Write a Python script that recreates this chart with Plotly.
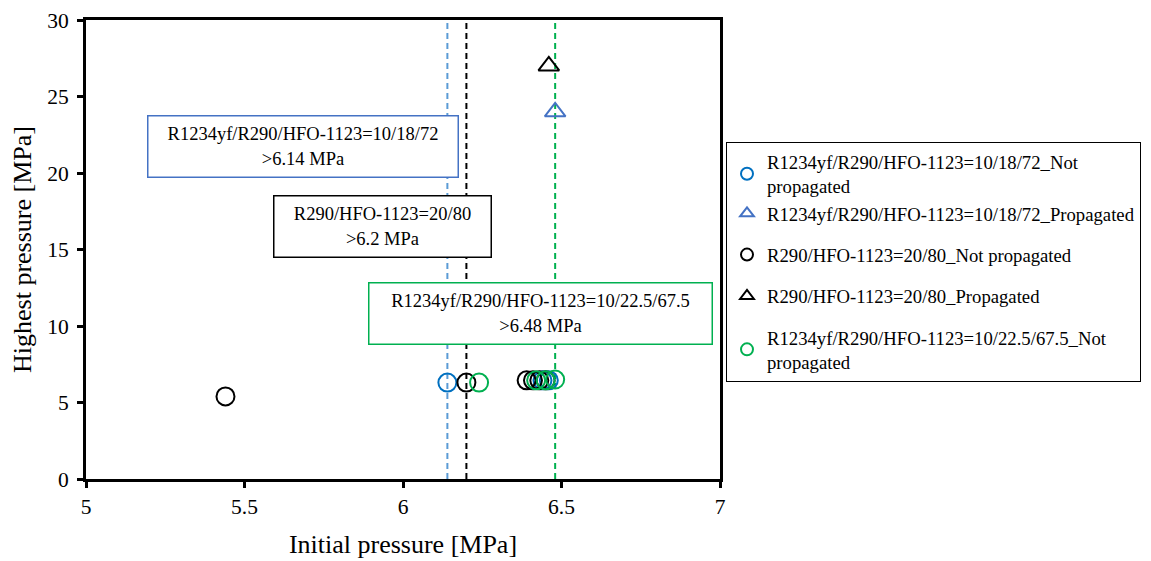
import plotly.graph_objects as go

# ---- data ----
blue_np_x = [6.14, 6.44, 6.46]
blue_np_y = [6.3, 6.45, 6.45]
blue_p_x = [6.48]
blue_p_y = [24.0]
black_np_x = [5.44, 6.20, 6.39, 6.41, 6.43, 6.45]
black_np_y = [5.4, 6.3, 6.45, 6.45, 6.45, 6.45]
black_p_x = [6.46]
black_p_y = [27.0]
green_np_x = [6.24, 6.42, 6.45, 6.48]
green_np_y = [6.3, 6.45, 6.45, 6.5]

series_names = [
    "R1234yf/R290/HFO-1123=10/18/72_Not<br>propagated",
    "R1234yf/R290/HFO-1123=10/18/72_Propagated",
    "R290/HFO-1123=20/80_Not propagated",
    "R290/HFO-1123=20/80_Propagated",
    "R1234yf/R290/HFO-1123=10/22.5/67.5_Not<br>propagated",
]

threshold_x = [6.14, 6.20, 6.48]
threshold_labels = [
    "R1234yf/R290/HFO-1123=10/18/72<br>>6.14 MPa",
    "R290/HFO-1123=20/80<br>>6.2 MPa",
    "R1234yf/R290/HFO-1123=10/22.5/67.5<br>>6.48 MPa",
]

x_ticks = [5, 5.5, 6, 6.5, 7]
y_ticks = [0, 5, 10, 15, 20, 25, 30]

FONT = "Liberation Serif"
BLUE_C = "#0070C0"
BLUE_T = "#4472C4"
BLUE_L = "#5B9BD5"
GREEN = "#00B050"

fig = go.Figure()

def add(x, y, name, color, symbol, group):
    fig.add_trace(go.Scatter(
        x=x, y=y, mode="markers", name=name, legendgroup=group,
        marker=dict(symbol=symbol, size=18, color=color,
                    line=dict(color=color, width=2)),
    ))

add(blue_np_x, blue_np_y, series_names[0], BLUE_C, "circle-open", "g1")
add(blue_p_x, blue_p_y, series_names[1], BLUE_T, "triangle-up-open", "g1")
add(black_np_x, black_np_y, series_names[2], "black", "circle-open", "g2")
add(black_p_x, black_p_y, series_names[3], "black", "triangle-up-open", "g3")
add(green_np_x, green_np_y, series_names[4], GREEN, "circle-open", "g4")

# threshold dashed lines
for xv, col in zip(threshold_x, [BLUE_L, "black", GREEN]):
    fig.add_shape(type="line", xref="x", yref="y", x0=xv, x1=xv, y0=0, y1=30,
                  line=dict(color=col, width=2, dash="6px,4px"), layer="below")

# labelled boxes
box_specs = [
    (5.685, 21.74, 312, BLUE_T),
    (5.935, 16.49, 219, "black"),
    (6.434, 10.85, 345, GREEN),
]
for txt, (cx, cy, w, col) in zip(threshold_labels, box_specs):
    fig.add_annotation(x=cx, y=cy, xref="x", yref="y", text=txt, showarrow=False,
                       font=dict(family=FONT, size=18.5, color="black"),
                       align="center", bgcolor="white", bordercolor=col,
                       borderwidth=1.5, borderpad=4, width=w - 11, height=63 - 11)

axis_common = dict(showline=True, linecolor="black", linewidth=3, mirror=True,
                   ticks="outside", ticklen=6, tickwidth=3, tickcolor="black",
                   showgrid=False, zeroline=False, automargin=False,
                   ticklabeloverflow="allow",
                   tickfont=dict(family=FONT, size=21.5, color="black"))

fig.update_xaxes(range=[5, 7], tickvals=x_ticks,
                 title=dict(text="Initial pressure [MPa]",
                            font=dict(family=FONT, size=26, color="black"), standoff=18),
                 **axis_common)
fig.update_yaxes(range=[0, 30], tickvals=y_ticks, ticklabelstandoff=4,
                 title=dict(text="Highest pressure [MPa]",
                            font=dict(family=FONT, size=26, color="black"), standoff=12),
                 **axis_common)

# page body has an 8px margin: the figure starts at (8, 8) in the window
fig.update_layout(
    width=1151, height=561,
    margin=dict(l=78, r=439, t=12, b=90),
    plot_bgcolor="white", paper_bgcolor="white",
    legend=dict(x=(726 - 86) / 634, y=(479 - 142) / 459, xanchor="left", yanchor="top",
                font=dict(family=FONT, size=18.7, color="black"),
                bordercolor="black", borderwidth=1, bgcolor="white",
                traceorder="grouped", tracegroupgap=14, itemsizing="constant"),
)

fig.write_html("out.html")
